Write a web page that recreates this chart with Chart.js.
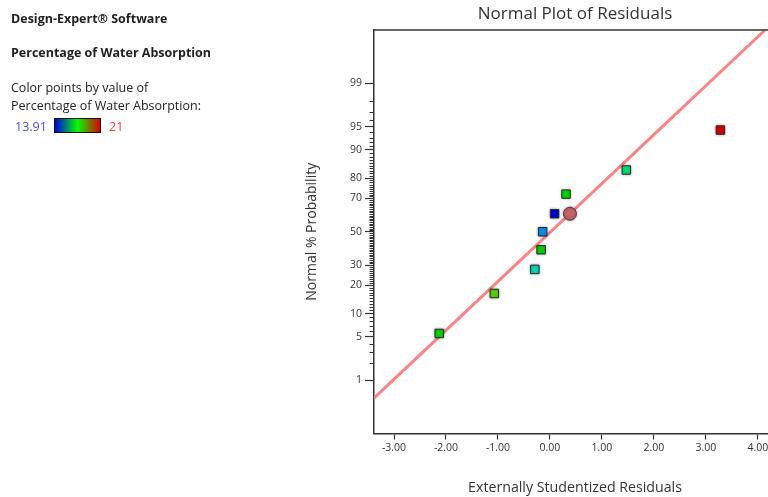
<!DOCTYPE html>
<html>
<head>
<meta charset="utf-8">
<script src="https://cdn.jsdelivr.net/npm/chart.js@4"></script>
<style>
  html, body { margin: 0; padding: 0; background: #fff; overflow: hidden; }
  #wrap { position: relative; width: 768px; height: 497px; overflow: hidden; }
  #c { position: absolute; left: 0; top: 0; }
  .t { position: absolute; left: 11px; font-family: "Open Sans", sans-serif; font-size: 12.5px; line-height: 16px; color: #222; white-space: nowrap; }
  .b { font-weight: bold; }
  #bar { position: absolute; left: 54px; top: 118px; width: 45px; height: 13px; border: 1px solid #111;
         background: linear-gradient(to right, #0000e8, #00ff00, #e00000); }
</style>
</head>
<body>
<div id="wrap">
  <canvas id="c" width="776" height="497"></canvas>
  <div class="t b" style="top:11px">Design-Expert® Software</div>
  <div class="t b" style="top:45px">Percentage of Water Absorption</div>
  <div class="t" style="top:80px">Color points by value of</div>
  <div class="t" style="top:98px">Percentage of Water Absorption:</div>
  <div class="t" style="top:119px; left:15px; color:#4848ff">13.91</div>
  <div id="bar"></div>
  <div class="t" style="top:119px; left:109px; color:#ff3a3a">21</div>
</div>
<script>
// residuals (x) and normal % probability (y)
const residX = [-2.13, -1.07, -0.29, -0.17, -0.14, 0.09, 0.31, 1.47, 3.28];
const residP = [5.56, 16.67, 27.78, 38.89, 50, 61.11, 72.22, 83.33, 94.44];
// highlighted point (circle)
const markX = [0.385];
const markP = [61.11];
// fitted normal line end points
const lineX = [-3.385, 4.135];
const lineP = [0.46, 99.92];

const xTicks = [-3, -2, -1, 0, 1, 2, 3, 4];
const yTickP = [1, 5, 10, 20, 30, 50, 70, 80, 90, 95, 99];
const yTickLabels = ['1', '5', '10', '20', '30', '50', '70', '80', '90', '95', '99'];

const pointColors = ['#00d800', '#50d800', '#00dcb4', '#00d400', '#0090f0', '#0000d8', '#00dc00', '#00e078', '#e00000'];

// inverse normal cdf (Acklam)
function probit(p) {
  const a = [-3.969683028665376e+01, 2.209460984245205e+02, -2.759285104469687e+02, 1.383577518672690e+02, -3.066479806614716e+01, 2.506628277459239e+00];
  const b = [-5.447609879822406e+01, 1.615858368580409e+02, -1.556989798598866e+02, 6.680131188771972e+01, -1.328068155288572e+01];
  const c = [-7.784894002430293e-03, -3.223964580411365e-01, -2.400758277161838e+00, -2.549732539343734e+00, 4.374664141464968e+00, 2.938163982698783e+00];
  const d = [7.784695709041462e-03, 3.224671290700398e-01, 2.445134137142996e+00, 3.754408661907416e+00];
  const pl = 0.02425, ph = 1 - pl;
  let q, r;
  if (p < pl) {
    q = Math.sqrt(-2 * Math.log(p));
    return (((((c[0]*q+c[1])*q+c[2])*q+c[3])*q+c[4])*q+c[5]) / ((((d[0]*q+d[1])*q+d[2])*q+d[3])*q+1);
  }
  if (p > ph) {
    q = Math.sqrt(-2 * Math.log(1 - p));
    return -(((((c[0]*q+c[1])*q+c[2])*q+c[3])*q+c[4])*q+c[5]) / ((((d[0]*q+d[1])*q+d[2])*q+d[3])*q+1);
  }
  q = p - 0.5; r = q * q;
  return (((((a[0]*r+a[1])*r+a[2])*r+a[3])*r+a[4])*r+a[5])*q / (((((b[0]*r+b[1])*r+b[2])*r+b[3])*r+b[4])*r+1);
}

function toPoints(xs, ps) {
  return xs.map((x, i) => ({ x: x, y: probit(ps[i] / 100) }));
}

// minor ticks on the probability axis
const minorP = [];
for (let p = 2; p <= 98; p++) {
  if (yTickP.indexOf(p) >= 0) continue;
  minorP.push(p);
}

const frame = {
  id: 'frame',
  afterDraw(chart) {
    const ctx = chart.ctx, a = chart.chartArea, ys = chart.scales.y;
    ctx.save();
    ctx.strokeStyle = '#333';
    ctx.lineWidth = 1.5;
    ctx.beginPath();
    ctx.moveTo(a.left - 0.75, a.top);
    ctx.lineTo(a.right, a.top);
    ctx.stroke();
    ctx.lineWidth = 1;
    ctx.beginPath();
    minorP.forEach(p => {
      const y = Math.round(ys.getPixelForValue(probit(p / 100))) + 0.5;
      ctx.moveTo(a.left - 4.5, y);
      ctx.lineTo(a.left, y);
    });
    ctx.stroke();
    ctx.restore();
  },
  beforeDatasetDraw(chart, args) {
    if (args.index < 2) {
      chart.ctx.save();
      chart.ctx.shadowColor = 'rgba(0,0,0,0.35)';
      chart.ctx.shadowBlur = 3;
    }
  },
  afterDatasetDraw(chart, args) {
    if (args.index < 2) chart.ctx.restore();
  }
};

const font = '"Open Sans", sans-serif';

new Chart(document.getElementById('c'), {
  type: 'scatter',
  data: {
    datasets: [{
      data: toPoints(markX, markP),
      pointStyle: 'circle',
      pointRadius: 6.5,
      backgroundColor: '#c26464',
      borderColor: '#5a3434',
      borderWidth: 1
    }, {
      data: toPoints(residX, residP),
      pointStyle: 'rect',
      pointRadius: 6,
      backgroundColor: pointColors,
      borderColor: '#2a2a2a',
      borderWidth: 1
    }, {
      type: 'line',
      data: toPoints(lineX, lineP),
      borderColor: '#ff8282',
      borderWidth: 3,
      pointRadius: 0,
      showLine: true,
      clip: 0
    }]
  },
  options: {
    responsive: false,
    animation: false,
    layout: { autoPadding: false, padding: { left: 300, top: 0, right: 0, bottom: 0 } },
    plugins: {
      legend: { display: false },
      tooltip: { enabled: false },
      title: {
        display: true,
        text: 'Normal Plot of Residuals',
        fullSize: false,
        color: '#333',
        font: { family: font, size: 17, weight: 'normal' },
        padding: { top: 4, bottom: 5.6 }
      }
    },
    scales: {
      x: {
        type: 'linear',
        min: -3.385,
        max: 4.35,
        afterBuildTicks(s) { s.ticks = xTicks.map(v => ({ value: v })); },
        afterFit(s) { s.height = 63.5; s.paddingRight = 0; s.paddingLeft = 0; },
        grid: { drawOnChartArea: false, tickLength: 6, tickColor: '#333', tickWidth: 1.2 },
        border: { color: '#333', width: 1.5 },
        ticks: {
          color: '#333', padding: 2, maxRotation: 0,
          font: { family: font, size: 10.5 },
          callback: v => v.toFixed(2)
        },
        title: {
          display: true, text: 'Externally Studentized Residuals', color: '#333',
          font: { family: font, size: 14.2 }, padding: { bottom: 0.6, top: 0 }
        }
      },
      y: {
        type: 'linear',
        min: -3.16,
        max: 3.16,
        afterBuildTicks(s) { s.ticks = yTickP.map(p => ({ value: probit(p / 100) })); },
        afterFit(s) { s.width = 74; },
        grid: { drawOnChartArea: false, tickLength: 9, tickColor: '#333', tickWidth: 1.2 },
        border: { color: '#333', width: 1.5 },
        ticks: {
          color: '#333', padding: 3,
          font: { family: font, size: 10.5 },
          callback: (v, i) => yTickLabels[i]
        },
        title: {
          display: true, text: 'Normal % Probability', color: '#333',
          font: { family: font, size: 14 }, padding: { top: 4, bottom: 0 }
        }
      }
    }
  },
  plugins: [frame]
});
</script>
</body>
</html>
